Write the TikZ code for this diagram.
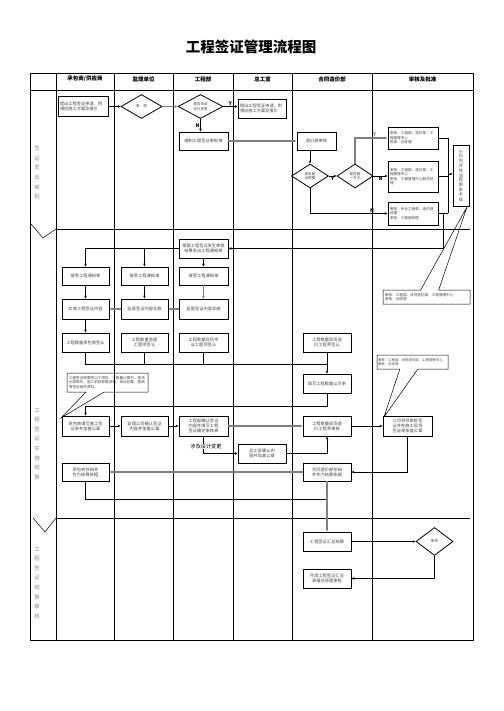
\documentclass[tikz,border=0pt]{standalone}
\usepackage{fontspec}
\usepackage{xcolor}
\usepackage{tikz}
\usetikzlibrary{calc,arrows.meta,shapes.geometric,shapes.callouts}
\newfontfamily\cjk{Noto Sans CJK SC}
\XeTeXlinebreaklocale "zh"
\XeTeXlinebreakskip=0pt plus 0.1pt
\definecolor{linegray}{HTML}{808080}
\definecolor{labgray}{HTML}{8A8A8A}
\definecolor{txtgray}{HTML}{404040}
\newcommand{\boxfont}{\cjk\fontsize{4.2}{5.1}\selectfont}
\newcommand{\notefont}{\cjk\fontsize{3.6}{4.5}\selectfont}
\tikzset{
  ar/.style={-{Stealth[length=3pt,width=2.6pt]},line width=0.6pt},
  gar/.style={ar,linegray,line width=1.3pt},
  grid/.style={line width=0.8pt},
  box/.style={draw,line width=0.9pt,minimum width=48pt,minimum height=19pt,inner sep=1pt,text width=44pt,align=center,text=txtgray,font=\boxfont},
  spbox/.style={box,minimum width=50pt,text width=46pt,align=left,font=\notefont},
  dia/.style={draw,diamond,line width=0.8pt,inner sep=0pt,minimum width=40pt,minimum height=24pt,aspect=1.7,align=center,text=txtgray,font=\notefont},
  note/.style={draw,rectangle callout,line width=0.5pt,inner sep=1pt,callout pointer width=18pt,align=left,text=txtgray,font=\notefont},
  yn/.style={font=\cjk\fontsize{5}{5}\selectfont\bfseries,inner sep=0.8pt},
  phase/.style={font=\cjk\fontsize{5.5}{9.6}\selectfont,text=labgray,align=center},
  head/.style={font=\cjk\fontsize{5.5}{6}\selectfont\bfseries}
}
\begin{document}
\begin{tikzpicture}[x=1pt,y=-1pt]
\useasboundingbox (0,0) rectangle (503,711);
\node[font=\cjk\fontsize{14.5}{15}\selectfont\bfseries] (title) at (251,46.5) {工程签证管理流程图};
\draw[grid] (30,73) rectangle (473,640);
\draw[grid] (30,90)--(473,90) (56,73)--(56,640) (114,73)--(114,640) (173,73)--(173,640)
  (233,73)--(233,640) (292,73)--(292,640) (372,73)--(372,640) (56,229)--(470,229) (56,518)--(470,518);
\draw[line width=0.5pt] (31,224)--(43,238)--(56,229) (33,518)--(45,532)--(56,518);
\node[head] (hd1) at (85,79) {承包商/供应商};
\node[head] (hd2) at (143.5,79) {监理单位};
\node[head] (hd3) at (203,79) {工程部};
\node[head] (hd4) at (262.5,79) {总工室};
\node[head] (hd5) at (332,79) {合同造价部};
\node[head] (hd6) at (422.5,79) {审核及批准};
\node[phase] (ph1) at (37,172.5) {签\\证\\发\\出\\审\\批};
\node[phase] (ph2) at (37,444) {工\\程\\签\\证\\实\\施\\结\\算};
\node[phase] (ph3) at (37,583) {工\\程\\签\\证\\结\\算\\审\\核};
% 签证发出审批
\node[box,minimum width=50pt,minimum height=20pt,text width=46pt,align=left] (cb1) at (83,106.5) {提出工程签证申请，附相应施工方案及报价};
\node[dia,minimum width=41pt] (jl1) at (141.5,106.5) {审\quad 核};
\node[dia,minimum width=45pt] (gc1) at (200.5,106.5) {是否涉及\\设计变更};
\node[box,align=left] (zg1) at (262,108.5) {提出工程签证申请，附相应施工方案及报价};
\node[box,minimum width=49pt,minimum height=18pt] (gc2) at (203.5,141) {编制工程签证审批单};
\node[box,minimum width=39pt,minimum height=18pt,text width=35pt] (ht1) at (316.5,141) {造价部审核};
\node[dia,minimum width=37pt] (htd1) at (310,176) {是否超\\出预算};
\node[dia,minimum width=36pt] (htd2) at (355,176) {是否超\\一万元};
\node[spbox,minimum height=22pt] (sp1) at (413,138) {审核：工程部、造价部、工程管理中心\\批准：总经理};
\node[spbox,minimum height=31pt] (sp2) at (413,176.5) {审核：工程部、造价部、工程管理中心\\审批：工程管理中心副总经理};
\node[spbox,minimum height=23pt] (sp3) at (413,213.5) {审核：专业工程师、造价部经理\\审批：工程部经理};
\node[box,minimum width=16pt,minimum height=61pt,text width=6pt,font=\cjk\fontsize{4.2}{4.8}\selectfont] (sp0) at (461,175.5) {十\\日\\内\\评\\估\\流\\程\\审\\批\\手\\续};
\node[note,minimum width=87pt,minimum height=14pt,text width=83pt,callout absolute pointer={(467,207)}] (nt1) at (426.5,297) {审核：工程部、合同造价部、工程管理中心\\审批：总经理};
\draw[ar] (cb1) -- (jl1);
\draw[gar] (jl1) -- (gc1);
\draw[ar] (gc1.east) -- node[yn,above]{Y} (gc1.east -| zg1.west);
\draw[ar] (gc1.south) -- node[yn,left]{N} (gc1.south |- gc2.north);
\draw[gar] (gc2) -- (ht1);
\draw[ar] (ht1.south -| htd1.north) -- (htd1.north);
\draw[ar] (htd1) -- node[yn,below]{Y} (htd2);
\draw[gar] (htd2.north) |- node[yn,pos=0.8,above]{Y} (sp1.west);
\draw[ar] (htd2.east) -- node[yn,below]{N} (htd2.east -| sp2.west);
\draw[ar] (htd1.south) |- node[yn,pos=0.9,above]{N} (sp3.west);
\coordinate (m1) at (448,174);
\coordinate (r1) at (443,213.5);
\draw[line width=0.6pt] (sp1.east)--(sp1.east -| m1) (sp2.east)--(sp2.east -| m1) (sp3.east)--(sp3.east -| m1) (sp1.east -| m1)--(sp3.east -| m1);
\draw[ar] (m1) -- (m1 -| sp0.west);
% 工程签证实施结算
\node[box,minimum width=49pt] (gc3) at (203.5,248.5) {根据工程签证发生审批结果发出工程通知单};
\node[box,minimum width=47pt,minimum height=18pt] (cb2) at (85.5,276) {接受工程通知单};
\node[box,minimum width=47pt,minimum height=18pt] (jl2) at (144.5,276) {接受工程通知单};
\node[box,minimum width=49pt,minimum height=18pt] (gc4) at (203.5,276) {接受工程通知单};
\node[box,minimum width=47pt,minimum height=20pt] (cb3) at (85.5,309) {实施工程签证内容};
\node[box,minimum width=47pt,minimum height=20pt] (jl3) at (144.5,309) {监督签证内容实施};
\node[box,minimum width=49pt,minimum height=20pt] (gc5) at (203.5,309) {监督签证内容实施};
\node[box,minimum width=47pt] (cb4) at (85.5,342.5) {工程数量承包商签认};
\node[box,minimum width=47pt] (jl4) at (144.5,342.5) {工程数量监理工程师签认};
\node[box,minimum width=49pt] (gc6) at (203.5,342.5) {工程数量现场专业工程师签认};
\node[box] (ht2) at (327,342.5) {工程数量现场造价工程师签认};
\node[box] (ht3) at (327,383.5) {填写工程数量认可单};
\node[note,minimum width=81pt,minimum height=19pt,text width=77pt,callout absolute pointer={(61,418)}] (nt2) at (107.5,382.5) {工程签证单需附以下资料：工程量计算书、现场记录照片、施工前后影像资料、会议纪要、图纸等签证相关资料。};
\node[box,minimum width=47pt,minimum height=20pt] (cb5) at (85.5,426) {承包商填写施工签证单并加盖公章};
\node[box,minimum width=47pt,minimum height=20pt] (jl5) at (144.5,426) {监理公司确认签证内容并加盖公章};
\node[box,minimum width=49pt,minimum height=20pt] (gc7) at (203.5,426) {工程部确认签证内容并填写工程签证确定审核表};
\node[box,minimum height=20pt] (ht4) at (327,426) {工程数量现场造价工程师审核};
\node[box,minimum width=49pt,minimum height=20pt] (sp4) at (407.5,426) {公司领导审批签证并在施工现场签证单加盖公章};
\node[box] (zg2) at (262,453.5) {总工室确认内容并加盖公章};
\node[note,minimum width=71pt,minimum height=14pt,text width=69pt,font=\cjk\fontsize{3.4}{4.4}\selectfont,callout absolute pointer={(384,417)}] (nt3) at (412.5,362) {审核：工程部、合同造价部、工程管理中心\\审批：总经理};
\node[box,minimum height=18pt] (ht5) at (327,472) {合同造价部存档并作为结算依据};
\node[box,minimum width=47pt,minimum height=18pt] (cb6) at (85.5,472) {承包商存档并作为结算依据};
\draw[ar] (r1) |- (gc3.east);
\draw[ar] (gc3.west) -| (cb2.north);
\draw[ar] (gc3.west -| jl2.north) -- (jl2.north);
\draw[ar] (gc3) -- (gc4);
\draw[ar] (cb2) -- (cb3);
\draw[ar] (jl2) -- (jl3);
\draw[gar] (gc4) -- (gc5);
\draw[gar] (gc5) -- (jl3);
\draw[gar] (jl3) -- (cb3);
\draw[ar] (cb3) -- (cb4);
\coordinate (j1) at (327,364);
\draw[line width=0.6pt] (cb4.south) |- (j1) (jl4.south) -- (jl4.south |- j1) (gc6.south) -- (gc6.south |- j1);
\draw[ar] (ht2) -- (ht3);
\coordinate (j2) at (327,406);
\draw[ar] (ht3.south) -- (j2) -| (cb5.north);
\draw[ar] (cb5) -- (jl5);
\draw[ar] (jl5) -- (gc7);
\draw[gar] (gc7) -- (ht4);
\draw[ar] (gc7.south) |- (zg2.west);
\node[font=\cjk\fontsize{5.2}{6}\selectfont,fill=white,inner sep=0.4pt] (lb1) at (206,446.5) {涉及设计变更};
\draw[ar] (zg2.east) -| (ht4.south);
\draw[ar] (ht4) -- (sp4);
\draw[ar] (sp4.south) |- (ht5.east);
\draw[gar] (ht5) -- (cb6);
\coordinate (j3) at (327,499);
\draw[line width=0.6pt] (cb6.south) |- (j3);
% 工程签证结算审核
\node[box] (ht6) at (327,541.5) {工程签证汇总结算};
\node[dia,minimum width=37pt,minimum height=28pt] (sp5) at (434.5,541.5) {审核};
\node[box] (ht7) at (327,578.5) {月度工程签证汇总表报总经理审批};
\draw[gar] (ht5) -- (ht6);
\draw[ar] (ht6) -- (sp5);
\draw[ar] (sp5.south) |- (ht7.east);
\end{tikzpicture}
\end{document}
